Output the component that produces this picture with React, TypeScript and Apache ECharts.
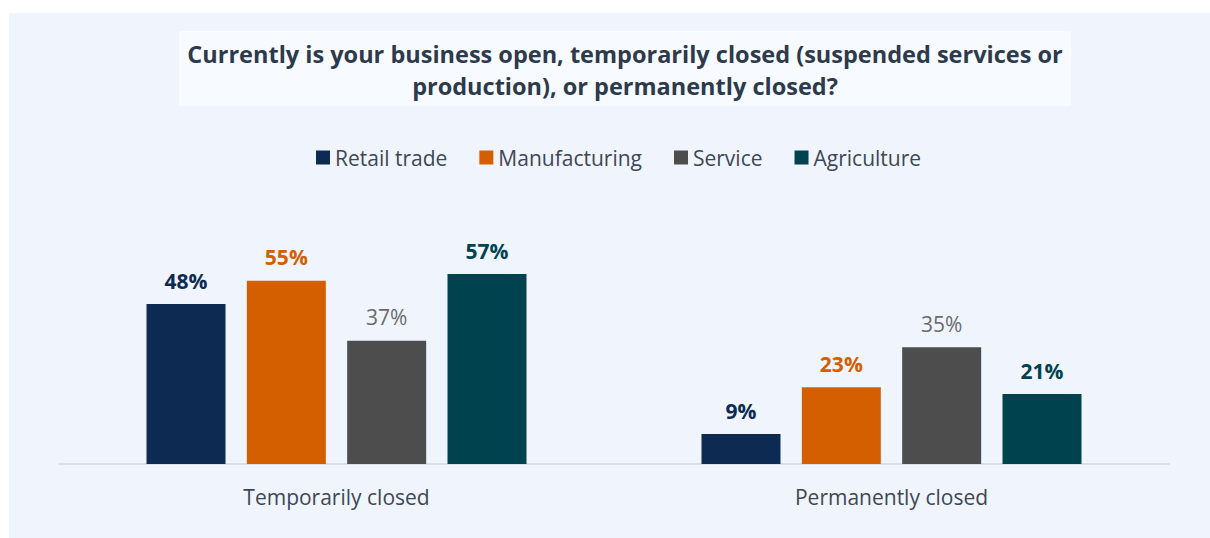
import React, { useEffect, useRef } from "react";
import * as echarts from "echarts";

const categories = ["Temporarily closed", "Permanently closed"];
const seriesNames = ["Retail trade", "Manufacturing", "Service", "Agriculture"];
const retailTrade = [48, 9];
const manufacturing = [55, 23];
const service = [37, 35];
const agriculture = [57, 21];
const seriesValues = [retailTrade, manufacturing, service, agriculture];
const barColors = ["#0c2a52", "#d45f00", "#4d4d4d", "#00434f"];
const labelColors = ["#0c2a52", "#d45f00", "#6b6b6b", "#00434f"];
const labelWeights = ["bold", "bold", "normal", "bold"];
const titleText =
  "Currently is your business open, temporarily closed (suspended services or\nproduction), or permanently closed?";

export default function App() {
  const ref = useRef<HTMLDivElement>(null);
  useEffect(() => {
    if (!ref.current) return;
    const chart = echarts.init(ref.current, null, { renderer: "svg" });
    const font = "'Open Sans', 'Noto Sans', sans-serif";
    chart.setOption({
      animation: false,
      backgroundColor: "#ffffff",
      textStyle: { fontFamily: font },
      graphic: [
        {
          type: "rect",
          shape: { x: 9, y: 13, width: 1201, height: 525 },
          style: { fill: "#f0f5fd" },
          z: -10,
          silent: true,
        },
        {
          type: "rect",
          shape: { x: 179, y: 31, width: 892, height: 75 },
          style: { fill: "#f7faff" },
          z: -9,
          silent: true,
        },
      ],
      title: {
        text: titleText,
        left: 620,
        top: 33,
        textAlign: "center",
        textStyle: {
          fontFamily: font,
          fontSize: 23.5,
          fontWeight: "bold",
          color: "#2d3a4b",
          lineHeight: 32,
        },
      },
      legend: {
        top: 142,
        left: 311,
        itemWidth: 14,
        itemHeight: 14,
        itemGap: 32,
        icon: "rect",
        data: seriesNames,
        textStyle: { fontFamily: font, fontSize: 21, color: "#3d4756" },
      },
      grid: { left: 59, right: 41, top: 264, bottom: 74 },
      xAxis: {
        type: "category",
        data: categories,
        axisLine: { lineStyle: { color: "#d9dee8", width: 2 } },
        axisTick: { show: false },
        axisLabel: { fontFamily: font, fontSize: 21, color: "#3d4756", margin: 22 },
      },
      yAxis: {
        type: "value",
        min: 0,
        max: 60,
        show: false,
        splitLine: { show: false },
      },
      series: seriesNames.map((name, i) => ({
        name,
        type: "bar",
        data: seriesValues[i],
        barWidth: 79,
        barGap: "27%",
        itemStyle: { color: barColors[i] },
        label: {
          show: true,
          position: "top",
          distance: 13,
          formatter: "{c}%",
          fontFamily: font,
          fontSize: 21,
          fontWeight: labelWeights[i],
          color: labelColors[i],
        },
      })),
    });
    return () => chart.dispose();
  }, []);
  return (
    <div
      ref={ref}
      style={{ position: "absolute", left: 0, top: 0, width: 1210, height: 538 }}
    />
  );
}
